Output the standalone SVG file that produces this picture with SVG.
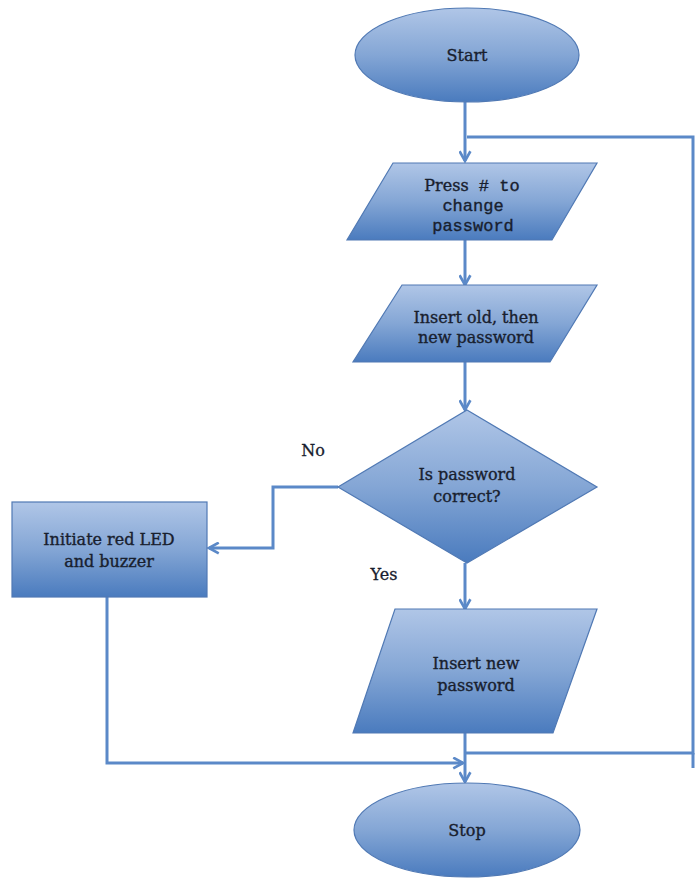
<svg xmlns="http://www.w3.org/2000/svg" width="698" height="879" viewBox="0 0 698 879">
<defs>
<linearGradient id="g" x1="0" y1="0" x2="0" y2="1">
<stop offset="0" stop-color="#b0c6e7"/>
<stop offset="0.5" stop-color="#84a6d5"/>
<stop offset="1" stop-color="#4a7bbe"/>
</linearGradient>
<marker id="arr" viewBox="0 0 12 12" refX="10" refY="6" markerWidth="13" markerHeight="13" markerUnits="userSpaceOnUse" orient="auto">
<path d="M1,1 L10,6 L1,11" fill="none" stroke="#5b89c8" stroke-width="2.4"/>
</marker>
<style>
.shape{fill:url(#g);stroke:#5079b4;stroke-width:1.2}
.conn{fill:none;stroke:#5b89c8;stroke-width:3}
.t{font-family:"DejaVu Serif","Liberation Serif",serif;font-size:16px;fill:#18202e;stroke:#18202e;stroke-width:0.35;text-anchor:middle}
.m{font-family:"Liberation Mono","DejaVu Sans Mono",monospace;font-size:17px;fill:#18202e;stroke:#18202e;stroke-width:0.35;text-anchor:middle}
.lbl{font-family:"DejaVu Serif","Liberation Serif",serif;font-size:16px;fill:#18202e;stroke:#18202e;stroke-width:0.3;text-anchor:middle}
</style>
</defs>
<rect width="698" height="879" fill="#ffffff"/>
<g id="connectors">
<path class="conn" d="M465,102 L465,161" marker-end="url(#arr)"/>
<path class="conn" d="M465,753 L693,753 L693,137 L467,137"/>
<path class="conn" d="M693,753 L693,768"/>
<path class="conn" d="M465,240 L465,285" marker-end="url(#arr)"/>
<path class="conn" d="M465,362 L465,410" marker-end="url(#arr)"/>
<path class="conn" d="M338,487 L273,487 L273,548 L209,548" marker-end="url(#arr)"/>
<path class="conn" d="M465,563 L465,609" marker-end="url(#arr)"/>
<path class="conn" d="M465,733 L465,782" marker-end="url(#arr)"/>
<path class="conn" d="M107,597 L107,763 L463,763" marker-end="url(#arr)"/>
</g>
<g id="start">
<ellipse class="shape" cx="467" cy="55" rx="112" ry="47"/>
<text class="t" x="467" y="61">Start</text>
</g>
<g id="press">
<polygon class="shape" points="393,163 597,163 552,240 347,240"/>
<text class="m" x="472" y="191"><tspan font-family="DejaVu Serif, serif" font-size="16">Press</tspan> # to</text>
<text class="m" x="473" y="211">change</text>
<text class="m" x="473" y="231">password</text>
</g>
<g id="insert-old">
<polygon class="shape" points="402,285 597,285 550,362 353,362"/>
<text class="t" x="476" y="323">Insert old, then</text>
<text class="t" x="476" y="343">new password</text>
</g>
<g id="decision">
<polygon class="shape" points="467,410 597,487 467,563 338,487"/>
<text class="t" x="467" y="480">Is password</text>
<text class="t" x="467" y="502">correct?</text>
</g>
<g id="alarm">
<rect class="shape" x="12" y="502" width="195" height="95"/>
<text class="t" x="109" y="545">Initiate red LED</text>
<text class="t" x="109" y="567">and buzzer</text>
</g>
<g id="insert-new">
<polygon class="shape" points="395,609 597,609 553,733 353,733"/>
<text class="t" x="476" y="669">Insert new</text>
<text class="t" x="476" y="691">password</text>
</g>
<g id="stop">
<ellipse class="shape" cx="467" cy="830" rx="113" ry="47"/>
<text class="t" x="467" y="836">Stop</text>
</g>
<g id="labels">
<text class="lbl" x="313" y="456">No</text>
<text class="lbl" x="384" y="580">Yes</text>
</g>
</svg>
